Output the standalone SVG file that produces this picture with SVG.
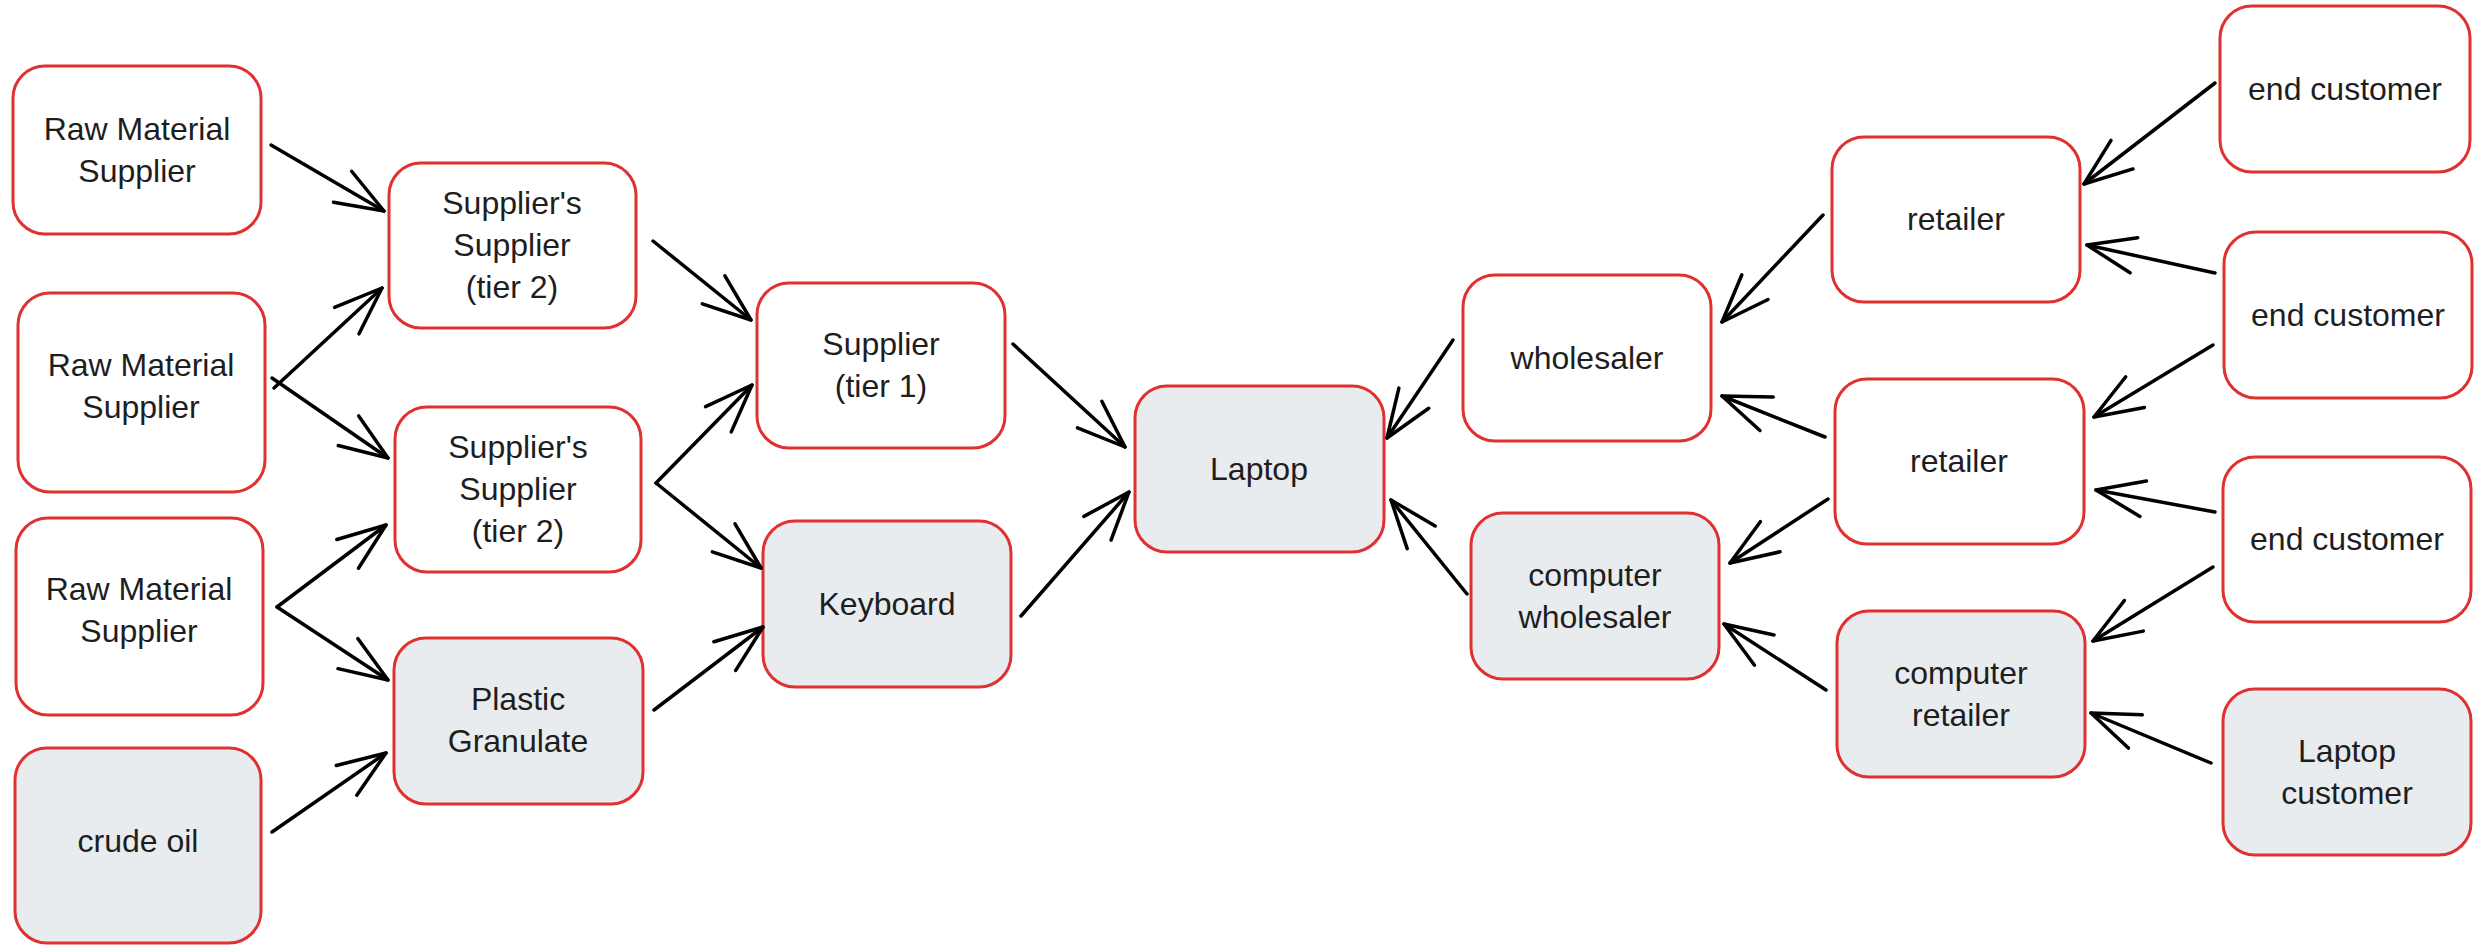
<svg xmlns="http://www.w3.org/2000/svg" width="2478" height="946" viewBox="0 0 2478 946">
  <defs>
    <style>
      .box { stroke: #e03131; stroke-width: 3; }
      .plain { fill: #ffffff; }
      .grey { fill: #e9ecef; }
      .lbl { font-family: "Liberation Sans", Arial, sans-serif; font-size: 32px; fill: #1e1e1e; text-anchor: middle; }
      .edge { fill: none; stroke: #000000; stroke-width: 3.5; stroke-linecap: round; marker-end: url(#head); }
    </style>
    <marker id="head" markerUnits="userSpaceOnUse" markerWidth="70" markerHeight="70" refX="0" refY="0" viewBox="-60 -35 70 70" orient="auto" overflow="visible">
      <path d="M -48 -18 L 0 0 L -48 18" fill="none" stroke="#000000" stroke-width="3.5" stroke-linecap="round" stroke-linejoin="round"/>
    </marker>
  </defs>
  <rect width="2478" height="946" fill="#ffffff"/>

  <!-- upstream suppliers -->
  <g id="raw-material-1">
    <rect class="box plain" x="13" y="66" width="248" height="168" rx="32"/>
    <text class="lbl" x="137" y="140">Raw Material</text>
    <text class="lbl" x="137" y="182">Supplier</text>
  </g>
  <g id="raw-material-2">
    <rect class="box plain" x="18" y="293" width="247" height="199" rx="32"/>
    <text class="lbl" x="141" y="376">Raw Material</text>
    <text class="lbl" x="141" y="418">Supplier</text>
  </g>
  <g id="raw-material-3">
    <rect class="box plain" x="16" y="518" width="247" height="197" rx="32"/>
    <text class="lbl" x="139" y="600">Raw Material</text>
    <text class="lbl" x="139" y="642">Supplier</text>
  </g>
  <g id="crude-oil">
    <rect class="box grey" x="15" y="748" width="246" height="195" rx="32"/>
    <text class="lbl" x="138" y="852">crude oil</text>
  </g>

  <g id="tier2-a">
    <rect class="box plain" x="389" y="163" width="247" height="165" rx="32"/>
    <text class="lbl" x="512" y="214">Supplier's</text>
    <text class="lbl" x="512" y="256">Supplier</text>
    <text class="lbl" x="512" y="298">(tier 2)</text>
  </g>
  <g id="tier2-b">
    <rect class="box plain" x="395" y="407" width="246" height="165" rx="32"/>
    <text class="lbl" x="518" y="458">Supplier's</text>
    <text class="lbl" x="518" y="500">Supplier</text>
    <text class="lbl" x="518" y="542">(tier 2)</text>
  </g>
  <g id="plastic-granulate">
    <rect class="box grey" x="394" y="638" width="249" height="166" rx="32"/>
    <text class="lbl" x="518" y="710">Plastic</text>
    <text class="lbl" x="518" y="752">Granulate</text>
  </g>

  <g id="tier1">
    <rect class="box plain" x="757" y="283" width="248" height="165" rx="32"/>
    <text class="lbl" x="881" y="355">Supplier</text>
    <text class="lbl" x="881" y="397">(tier 1)</text>
  </g>
  <g id="keyboard">
    <rect class="box grey" x="763" y="521" width="248" height="166" rx="32"/>
    <text class="lbl" x="887" y="615">Keyboard</text>
  </g>

  <!-- product -->
  <g id="laptop">
    <rect class="box grey" x="1135" y="386" width="249" height="166" rx="32"/>
    <text class="lbl" x="1259" y="480">Laptop</text>
  </g>

  <!-- downstream -->
  <g id="wholesaler">
    <rect class="box plain" x="1463" y="275" width="248" height="166" rx="32"/>
    <text class="lbl" x="1587" y="369">wholesaler</text>
  </g>
  <g id="computer-wholesaler">
    <rect class="box grey" x="1471" y="513" width="248" height="166" rx="32"/>
    <text class="lbl" x="1595" y="586">computer</text>
    <text class="lbl" x="1595" y="628">wholesaler</text>
  </g>

  <g id="retailer-1">
    <rect class="box plain" x="1832" y="137" width="248" height="165" rx="32"/>
    <text class="lbl" x="1956" y="230">retailer</text>
  </g>
  <g id="retailer-2">
    <rect class="box plain" x="1835" y="379" width="249" height="165" rx="32"/>
    <text class="lbl" x="1959" y="472">retailer</text>
  </g>
  <g id="computer-retailer">
    <rect class="box grey" x="1837" y="611" width="248" height="166" rx="32"/>
    <text class="lbl" x="1961" y="684">computer</text>
    <text class="lbl" x="1961" y="726">retailer</text>
  </g>

  <g id="end-customer-1">
    <rect class="box plain" x="2220" y="6" width="250" height="166" rx="32"/>
    <text class="lbl" x="2345" y="100">end customer</text>
  </g>
  <g id="end-customer-2">
    <rect class="box plain" x="2224" y="232" width="248" height="166" rx="32"/>
    <text class="lbl" x="2348" y="326">end customer</text>
  </g>
  <g id="end-customer-3">
    <rect class="box plain" x="2223" y="457" width="248" height="165" rx="32"/>
    <text class="lbl" x="2347" y="550">end customer</text>
  </g>
  <g id="laptop-customer">
    <rect class="box grey" x="2223" y="689" width="248" height="166" rx="32"/>
    <text class="lbl" x="2347" y="762">Laptop</text>
    <text class="lbl" x="2347" y="804">customer</text>
  </g>

  <!-- flows -->
  <g id="connectors">
    <path class="edge" d="M 271 145 L 384 211"/>
    <path class="edge" d="M 274 388 L 382 288"/>
    <path class="edge" d="M 272 378 L 388 458"/>
    <path class="edge" d="M 277 607 L 386 525"/>
    <path class="edge" d="M 277 607 L 388 680"/>
    <path class="edge" d="M 272 832 L 386 753"/>
    <path class="edge" d="M 653 241 L 751 320"/>
    <path class="edge" d="M 656 483 L 752 385"/>
    <path class="edge" d="M 656 483 L 761 568"/>
    <path class="edge" d="M 654 710 L 763 627"/>
    <path class="edge" d="M 1013 344 L 1125 447"/>
    <path class="edge" d="M 1021 616 L 1129 492"/>
    <path class="edge" d="M 1453 340 L 1387 438"/>
    <path class="edge" d="M 1467 594 L 1391 500"/>
    <path class="edge" d="M 1823 215 L 1722 322"/>
    <path class="edge" d="M 2215 83 L 2084 184"/>
    <path class="edge" d="M 2215 273 L 2087 245"/>
    <path class="edge" d="M 1825 437 L 1722 396"/>
    <path class="edge" d="M 2213 345 L 2094 417"/>
    <path class="edge" d="M 2215 512 L 2096 490"/>
    <path class="edge" d="M 1828 499 L 1730 563"/>
    <path class="edge" d="M 2213 567 L 2093 641"/>
    <path class="edge" d="M 1826 690 L 1724 624"/>
    <path class="edge" d="M 2211 763 L 2091 713"/>
  </g>
</svg>
